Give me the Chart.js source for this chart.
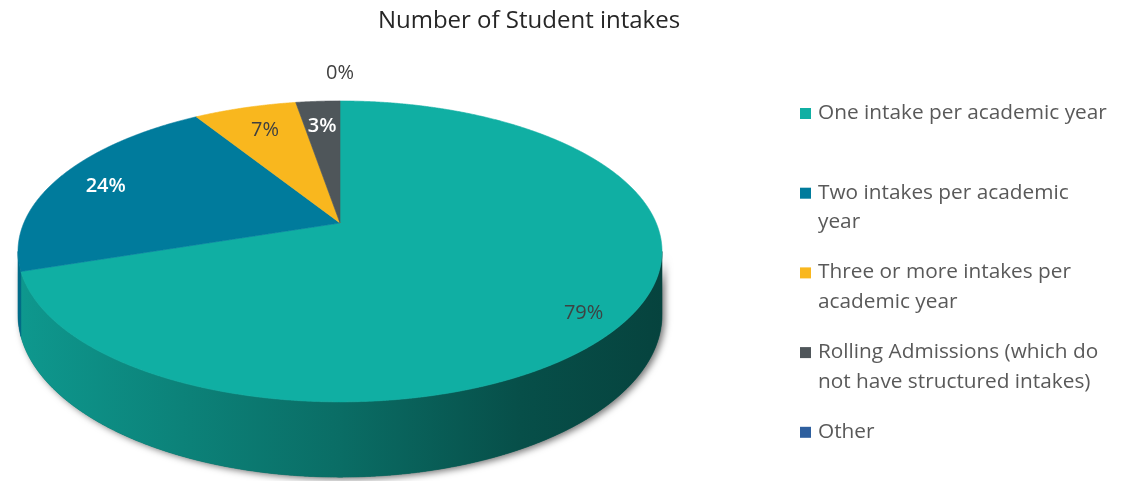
<!DOCTYPE html>
<html>
<head>
<meta charset="utf-8">
<title>Number of Student intakes</title>
<script src="https://cdn.jsdelivr.net/npm/chart.js@4.4.1/dist/chart.umd.min.js"></script>
<style>
  html, body { margin: 0; padding: 0; background: #ffffff; }
  #wrap { width: 1128px; height: 481px; position: relative; }
</style>
</head>
<body>
<div id="wrap"><canvas id="intakes" width="1128" height="481"></canvas></div>
<script>
// ---- data ----
const chartTitle = 'Number of Student intakes';
const categories = [
  'One intake per academic year',
  ['Two intakes per academic', 'year'],
  ['Three or more intakes per', 'academic year'],
  ['Rolling Admissions (which do', 'not have structured intakes)'],
  'Other'
];
const intakeShares = [79, 24, 7, 3, 0];
const valueLabels = intakeShares.map(v => v + '%');

// ---- styling ----
const sliceColors = ['#10AFA3', '#007B9C', '#F9B71E', '#4F565A', '#2E5F9E'];
const labelColors = ['#3d4343', '#ffffff', '#404040', '#ffffff', '#404040'];
const labelWeights = ['400', '600', '400', '600', '400'];
const labelRadius = [0.86, 0.83, 0.76, 0.78, 1.28];
const labelShiftY = [10, 2, -2, 2, 0];

// perspective of the tilted pie
const PERSP = 0.189;     // foreshortening of far vs near side
const RAD_X = 316.2;
const RAD_Y = 145.1;
const DEPTH = 61;        // thickness of the disc

function project(cx, cy, phi, r, drop) {
  const u = r * Math.cos(phi), v = r * Math.sin(phi);
  const w = 1 - PERSP * v;
  return [cx + RAD_X * u / w, cy + (RAD_Y * v + (drop || 0)) / w];
}

function hexToRgb(hex) {
  const n = parseInt(hex.slice(1), 16);
  return [(n >> 16) & 255, (n >> 8) & 255, n & 255];
}
function shade(hex, f) {
  const [r, g, b] = hexToRgb(hex);
  return `rgb(${Math.round(r * f)},${Math.round(g * f)},${Math.round(b * f)})`;
}

const STEP = 0.004;
function rimPoints(cx, cy, a, b, drop) {
  const pts = [];
  const n = Math.max(2, Math.ceil((b - a) / STEP));
  for (let i = 0; i <= n; i++) pts.push(project(cx, cy, a + (b - a) * i / n, 1, drop));
  return pts;
}

const pie3d = {
  id: 'pie3d',
  beforeDatasetsDraw(chart) {
    const ctx = chart.ctx;
    const arcs = chart.getDatasetMeta(0).data;
    if (!arcs.length) return false;
    const cx = arcs[0].x, cy = arcs[0].y;
    const sideR = Math.asin(PERSP), sideL = Math.PI - Math.asin(PERSP);
    const halfW = RAD_X / Math.sqrt(1 - PERSP * PERSP);

    ctx.save();

    // soft drop shadow around the visible wall
    ctx.save();
    ctx.shadowColor = 'rgba(0,0,0,0.55)';
    ctx.shadowBlur = 7;
    ctx.shadowOffsetX = 3;
    ctx.shadowOffsetY = 2;
    ctx.beginPath();
    rimPoints(cx, cy, sideR, sideL, 0).forEach((p, i) => i ? ctx.lineTo(p[0], p[1]) : ctx.moveTo(p[0], p[1]));
    rimPoints(cx, cy, sideR, sideL, DEPTH).reverse().forEach(p => ctx.lineTo(p[0], p[1]));
    ctx.closePath();
    ctx.fillStyle = '#0a5a52';
    ctx.fill();
    ctx.restore();

    // wall of each slice on the near side
    arcs.forEach((arc, i) => {
      const a = Math.max(arc.startAngle, sideR);
      const b = Math.min(arc.endAngle, sideL);
      if (b <= a) return;
      const col = arc.options.backgroundColor;
      const g = ctx.createLinearGradient(cx - halfW, 0, cx + halfW, 0);
      g.addColorStop(0, shade(col, 0.87));
      g.addColorStop(0.5, shade(col, 0.62));
      g.addColorStop(0.78, shade(col, 0.45));
      g.addColorStop(1, shade(col, 0.38));
      ctx.beginPath();
      rimPoints(cx, cy, a, b, 0).forEach((p, j) => j ? ctx.lineTo(p[0], p[1]) : ctx.moveTo(p[0], p[1]));
      rimPoints(cx, cy, a, b, DEPTH).reverse().forEach(p => ctx.lineTo(p[0], p[1]));
      ctx.closePath();
      ctx.fillStyle = g;
      ctx.fill();
      ctx.strokeStyle = g;
      ctx.lineWidth = 0.6;
      ctx.stroke();
    });

    // top face
    arcs.forEach(arc => {
      if (arc.endAngle - arc.startAngle <= 0) return;
      const col = arc.options.backgroundColor;
      ctx.beginPath();
      ctx.moveTo(cx, cy);
      rimPoints(cx, cy, arc.startAngle, arc.endAngle, 0).forEach(p => ctx.lineTo(p[0], p[1]));
      ctx.closePath();
      ctx.fillStyle = col;
      ctx.fill();
      ctx.strokeStyle = col;
      ctx.lineWidth = 0.6;
      ctx.stroke();
    });

    // value labels
    ctx.textAlign = 'center';
    ctx.textBaseline = 'middle';
    arcs.forEach((arc, i) => {
      const mid = (arc.startAngle + arc.endAngle) / 2;
      const p = project(cx, cy, mid, labelRadius[i], 0);
      ctx.font = `${labelWeights[i]} 20px "Open Sans", "DejaVu Sans", sans-serif`;
      ctx.fillStyle = labelColors[i];
      ctx.fillText(valueLabels[i], p[0], p[1] + labelShiftY[i]);
    });

    ctx.restore();
    return false;
  },
  afterDraw(chart) {
    const ctx = chart.ctx;
    ctx.save();
    // title
    ctx.font = '400 24px "Open Sans", "DejaVu Sans", sans-serif';
    ctx.fillStyle = '#262626';
    ctx.textAlign = 'center';
    ctx.textBaseline = 'middle';
    ctx.fillText(chartTitle, 529, 21);

    // legend
    const colors = chart.data.datasets[0].backgroundColor;
    ctx.font = '400 20.8px "Open Sans", "DejaVu Sans", sans-serif';
    ctx.textAlign = 'left';
    chart.data.labels.forEach((lab, i) => {
      const y0 = 113 + 79.7 * i;
      ctx.fillStyle = colors[i];
      ctx.fillRect(800, y0 - 5, 11, 11);
      ctx.fillStyle = '#595959';
      const lines = Array.isArray(lab) ? lab : [lab];
      lines.forEach((ln, j) => ctx.fillText(ln, 818, y0 + j * 29.5));
    });
    ctx.restore();
  }
};

new Chart(document.getElementById('intakes'), {
  type: 'pie',
  data: {
    labels: categories,
    datasets: [{
      data: intakeShares,
      backgroundColor: sliceColors,
      borderWidth: 0
    }]
  },
  options: {
    responsive: false,
    animation: false,
    devicePixelRatio: 1,
    layout: { padding: { left: 18, right: 466, top: 101, bottom: 136 } },
    plugins: {
      legend: { display: false },
      title: { display: false },
      tooltip: { enabled: false }
    }
  },
  plugins: [pie3d]
});
</script>
</body>
</html>
